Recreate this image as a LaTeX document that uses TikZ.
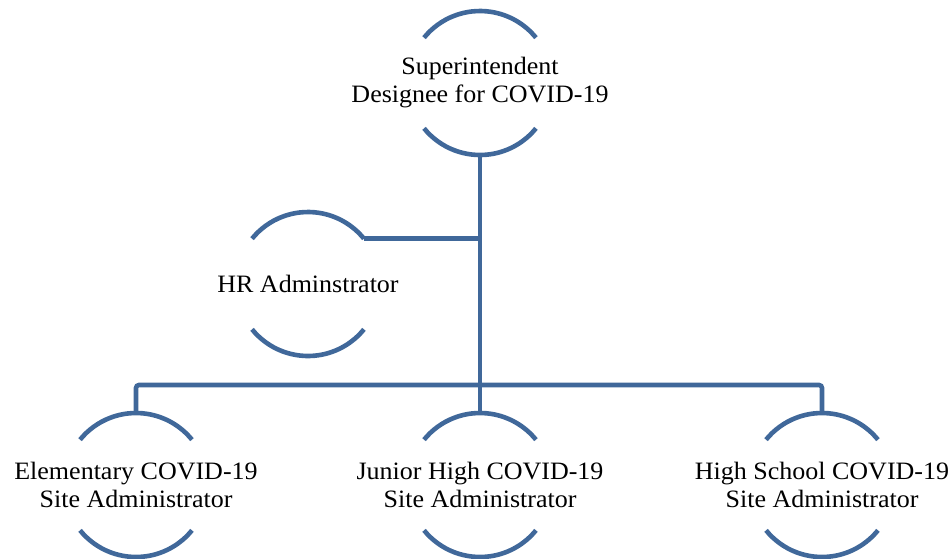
\documentclass[tikz,border=0pt]{standalone}
\usepackage{fontspec}
\setmainfont[FakeStretch=1.04]{Liberation Serif}
\definecolor{lineblue}{RGB}{64,104,154}
\begin{document}
\begin{tikzpicture}[x=1pt,y=1pt,
  conn/.style={draw=lineblue,line width=4.6pt},
  lbl/.style={align=center,font=\fontsize{25}{28}\selectfont,inner sep=0pt,text=black},
  ringtop/.style={draw=lineblue,line width=4.6pt}]
\useasboundingbox (0,0) rectangle (951,-558);
\node[lbl] (sup) at (480,-83) {Superintendent\\Designee for COVID-19};
\node[lbl] (hr) at (308,-284) {HR Adminstrator};
\node[lbl] (el) at (136,-485) {Elementary COVID-19\\Site Administrator};
\node[lbl] (jh) at (480,-485) {Junior High COVID-19\\Site Administrator};
\node[lbl] (hs) at (822,-485) {High School COVID-19\\Site Administrator};
\foreach \n in {sup,hr,el,jh,hs}{
  \draw[ringtop] ([shift={(\n.center)}]141:72) arc[start angle=141,end angle=39,radius=72];
  \draw[ringtop] ([shift={(\n.center)}]219:72) arc[start angle=219,end angle=321,radius=72];
}
\coordinate (bus) at (480,-385);
\coordinate (hre) at ([shift={(hr.center)}]39:72);
\draw[conn] ([shift={(sup.center)}]270:72) -- (bus);
\draw[conn] (hre) -- (hre -| bus);
\draw[conn,rounded corners=3pt] ([shift={(el.center)}]90:72) |- (bus) -| ([shift={(hs.center)}]90:72);
\draw[conn] (bus) -- ([shift={(jh.center)}]90:72);
\end{tikzpicture}
\end{document}
